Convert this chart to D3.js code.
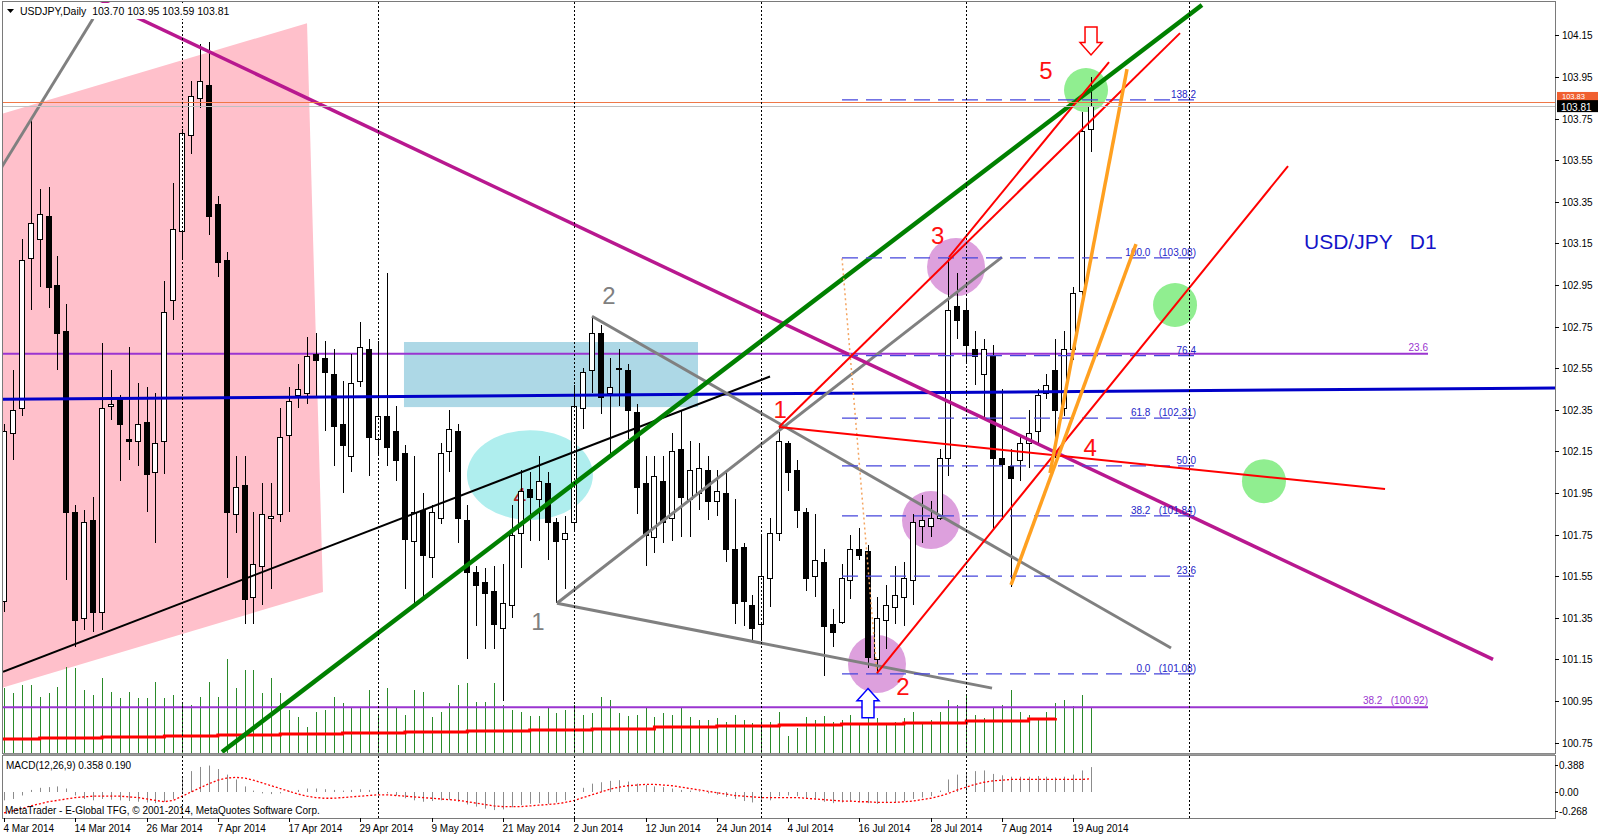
<!DOCTYPE html>
<html><head><meta charset="utf-8">
<script src="https://cdn.jsdelivr.net/npm/d3@7"></script>
<style>
body{margin:0;background:#fff}
svg{display:block}
text{font-family:"Liberation Sans",Arial,sans-serif}
</style></head>
<body><svg width="1600" height="837"></svg>
<script>
// ---------------- DATA ----------------
// Daily OHLC [open, high, low, close], bar 0 = 4 Mar 2014
const ohlc = [
[101.43,102.28,101.38,102.25],[102.24,102.54,102.11,102.35],[102.36,103.17,102.32,103.07],[103.08,103.75,102.83,103.25],
[103.17,103.41,102.94,103.29],[103.28,103.42,102.84,102.94],[102.95,103.09,102.54,102.72],[102.73,102.86,101.53,101.86],
[101.86,101.89,101.21,101.34],[101.35,101.87,101.29,101.81],[101.82,101.93,101.28,101.38],[101.38,102.67,101.29,102.36],
[102.37,102.54,102.30,102.38],[102.40,102.42,102.01,102.28],[102.21,102.65,102.11,102.20],[102.20,102.48,102.08,102.28],
[102.29,102.46,101.86,102.04],[102.05,102.43,101.71,102.19],[102.20,102.97,102.04,102.82],[102.88,103.44,102.78,103.22],
[103.21,103.70,103.08,103.68],[103.67,103.93,103.58,103.86],[103.85,104.11,103.80,103.93],[103.91,104.12,103.19,103.28],
[103.34,103.38,102.99,103.06],[103.07,103.11,101.54,101.86],[101.85,102.13,101.76,101.98],[101.99,102.13,101.32,101.44],
[101.45,101.86,101.32,101.61],[101.60,102.00,101.41,101.85],[101.83,102.00,101.49,101.84],[101.85,102.36,101.81,102.22],
[102.23,102.46,101.86,102.39],[102.42,102.57,102.36,102.45],[102.43,102.70,102.38,102.61],[102.62,102.72,102.41,102.59],
[102.60,102.68,102.25,102.53],[102.52,102.64,102.08,102.27],[102.28,102.49,101.95,102.18],[102.13,102.62,102.05,102.48],
[102.49,102.77,102.46,102.65],[102.64,102.69,102.03,102.22],[102.21,102.68,102.13,102.32],[102.32,103.01,102.08,102.17],
[102.25,102.37,102.01,102.11],[102.14,102.18,101.49,101.73],[101.72,102.13,101.42,101.86],[101.87,101.95,101.45,101.65],
[101.64,101.89,101.54,101.86],[101.83,102.19,101.80,102.14],[102.15,102.35,102.05,102.26],[102.25,102.28,101.71,101.83],
[101.82,101.89,101.15,101.57],[101.57,101.60,101.31,101.51],[101.52,101.59,101.20,101.47],[101.48,101.60,101.20,101.32],
[101.30,101.61,100.95,101.42],[101.41,101.89,101.35,101.75],[101.76,102.06,101.59,101.96],[101.97,102.05,101.72,101.93],
[101.92,102.13,101.72,102.01],[102.00,102.05,101.63,101.81],[101.81,101.83,101.42,101.72],[101.73,101.84,101.49,101.76],
[101.81,102.47,101.77,102.37],[102.36,102.55,102.26,102.53],[102.54,102.80,102.43,102.72],[102.72,102.76,102.33,102.41],
[102.43,102.60,102.12,102.46],[102.55,102.64,102.37,102.55],[102.54,102.57,102.21,102.35],[102.34,102.38,101.85,101.98],
[102.00,102.13,101.60,101.75],[101.74,102.13,101.66,102.03],[102.01,102.13,101.71,101.81],[101.83,102.24,101.72,102.15],
[102.16,102.35,101.74,101.93],[101.92,102.20,101.74,102.06],[101.95,102.19,101.87,102.07],[102.06,102.13,101.82,101.91],
[101.91,102.06,101.84,101.96],[101.95,102.06,101.62,101.68],[101.68,101.92,101.32,101.42],[101.69,101.71,101.31,101.43],
[101.41,101.46,101.23,101.30],[101.32,101.75,101.24,101.55],[101.54,101.83,101.40,101.76],[101.76,102.27,101.72,102.20],
[102.19,102.20,101.96,102.05],[102.06,102.11,101.78,101.87],[101.86,101.88,101.48,101.54],[101.55,101.85,101.45,101.63],
[101.62,101.68,101.07,101.31],[101.32,101.39,101.21,101.28],[101.33,101.61,101.32,101.54],[101.53,101.75,101.44,101.68],
[101.68,101.78,101.63,101.65],[101.67,101.70,101.11,101.16],[101.15,101.45,101.08,101.35],[101.34,101.51,101.20,101.41],
[101.40,101.60,101.32,101.46],[101.45,101.62,101.31,101.54],[101.53,101.85,101.41,101.81],[101.79,101.94,101.71,101.82],
[101.79,101.91,101.74,101.83],[101.83,102.16,101.82,102.12],[102.12,103.08,102.03,102.83],[102.85,103.01,102.69,102.78],
[102.83,102.88,102.57,102.66],[102.64,102.73,102.47,102.61],[102.52,102.69,102.30,102.64],[102.61,102.66,101.77,102.12],
[102.12,102.45,101.82,102.09],[102.08,102.16,101.50,102.02],[102.11,102.23,102.01,102.19],[102.19,102.35,102.07,102.24],
[102.25,102.45,102.19,102.42],[102.43,102.52,102.40,102.47],[102.54,102.69,102.12,102.35],[102.36,102.73,102.32,102.64],
[102.64,102.94,102.59,102.91],[102.92,103.78,102.88,103.69],[103.70,103.95,103.59,103.81]
];
// tick volume (hundreds)
const volumes = [65,60,68,68,56,60,66,86,85,63,58,75,61,55,61,55,55,71,55,58,51,48,56,71,56,94,65,83,83,60,
75,60,43,36,26,41,43,56,50,46,45,63,38,65,45,38,63,61,36,41,50,68,70,51,51,70,48,43,41,37,
37,46,40,43,48,38,40,56,53,40,37,38,46,36,40,38,45,36,33,33,35,31,38,33,30,33,31,41,17,25,
36,33,37,31,33,38,30,40,35,29,31,35,41,31,33,41,53,48,58,38,35,45,48,63,41,38,35,41,50,53,47,58,45];
// volume average knots [bar, value]
const volumeAvg = [[0,14],[4,15],[11,16],[18,17],[24,18],[31,19],[38,20],[45,21],[52,22],[59,23],[66,24],[73,26],[80,27],[87,28],[94,29],[101,30],[108,32],[115,34],[118,35]];
const macdHist = [-0.12,-0.10,-0.05,0.03,0.06,0.07,0.08,0.05,-0.05,-0.10,
-0.12,-0.10,-0.11,-0.12,-0.13,-0.14,-0.15,-0.16,-0.14,-0.10,
0.22,0.30,0.36,0.38,0.33,0.25,0.18,0.08,0.02,-0.02,
-0.03,-0.02,0.01,0.03,0.05,0.05,0.04,0.03,0.02,0.03,
0.04,0.03,0.02,-0.02,-0.05,-0.09,-0.12,-0.14,-0.13,-0.12,
-0.11,-0.14,-0.18,-0.21,-0.24,-0.26,-0.25,-0.22,-0.19,-0.17,
-0.16,-0.17,-0.15,-0.12,0.00,0.06,0.12,0.14,0.16,0.17,
0.15,0.12,0.10,0.08,0.07,0.05,0.03,0.02,0.01,-0.02,
-0.04,-0.07,-0.10,-0.13,-0.15,-0.14,-0.12,-0.06,-0.05,-0.06,
-0.10,-0.11,-0.14,-0.16,-0.15,-0.14,-0.13,-0.16,-0.17,-0.16,
-0.15,-0.13,-0.10,-0.08,-0.06,0.02,0.18,0.25,0.28,0.30,
0.31,0.26,0.24,0.22,0.22,0.22,0.23,0.22,0.21,0.22,
0.25,0.31,0.358];
const macdSignal = [-0.30,-0.27,-0.24,-0.20,-0.17,-0.14,-0.12,-0.10,-0.08,-0.07,
-0.06,-0.06,-0.06,-0.06,-0.07,-0.08,-0.10,-0.12,-0.14,-0.12,
-0.06,0.00,0.06,0.12,0.17,0.20,0.21,0.20,0.17,0.13,
0.09,0.05,0.01,-0.03,-0.06,-0.08,-0.09,-0.09,-0.08,-0.07,
-0.06,-0.05,-0.04,-0.04,-0.05,-0.06,-0.07,-0.08,-0.09,-0.10,
-0.11,-0.12,-0.14,-0.16,-0.18,-0.20,-0.21,-0.21,-0.21,-0.20,
-0.19,-0.18,-0.17,-0.15,-0.12,-0.08,-0.04,0.00,0.04,0.07,
0.09,0.10,0.11,0.11,0.10,0.09,0.07,0.05,0.03,0.01,
-0.01,-0.03,-0.05,-0.06,-0.07,-0.08,-0.08,-0.08,-0.08,-0.08,
-0.09,-0.10,-0.11,-0.12,-0.13,-0.13,-0.14,-0.14,-0.15,-0.15,
-0.15,-0.14,-0.13,-0.11,-0.09,-0.06,-0.02,0.03,0.07,0.11,
0.14,0.16,0.17,0.18,0.18,0.18,0.18,0.18,0.18,0.18,
0.18,0.18,0.19];
const dateLabels = ["4 Mar 2014","14 Mar 2014","26 Mar 2014","7 Apr 2014","17 Apr 2014","29 Apr 2014","9 May 2014","21 May 2014",
"2 Jun 2014","12 Jun 2014","24 Jun 2014","4 Jul 2014","16 Jul 2014","28 Jul 2014","7 Aug 2014","19 Aug 2014"];
const dateLabelBars = [0,8,16,24,32,40,48,56,64,72,80,88,96,104,112,120];
const monthStartBars = [20,42,64,85,108,133];
const priceTicks = [104.15,103.95,103.75,103.55,103.35,103.15,102.95,102.75,102.55,102.35,102.15,101.95,101.75,101.55,101.35,101.15,100.95,100.75];
const macdTicks = [0.388,0.00,-0.268];
const macdTickLabels = ["0.388","0.00","-0.268"];
const header = {symbol:"USDJPY,Daily", o:"103.70", h:"103.95", l:"103.59", c:"103.81"};
const bid = 103.81, ask = 103.83;
// drawn objects, anchors as [bar, price]
const pinkChannel = [[-0.5,103.77],[34.01,104.209],[35.80,101.474],[-0.5,101.01]];
const cyanBox = [[44.89,102.676],[77.89,102.363]];
const cyanEllipse = {center:[59.03,102.036], halfBars:7.07, halfPrice:0.216};
const plumCircles = [[106.85,103.036],[104.04,101.82],[97.98,101.128]];
const greenCircles = [[121.44,103.887],[131.43,102.854],[141.41,102.007]];
const greyTopLine = [[-0.5,103.50],[9.99,104.23]];
const magentaLine = [[10.77,104.32],[167.12,101.15]];
const greenLine = [[24.47,100.705],[134.45,104.296]];
const blackLine = [[-0.11,101.09],[85.97,102.51]];
const blueLine = [[-0.5,102.40],[174.5,102.455]];
const greyTriangle = [[[62.06,101.42],[112.01,103.084]],[[62.06,101.42],[110.89,101.012]],[[65.99,102.80],[130.98,101.205]]];
const redLines = [[[97.98,101.084],[144.11,103.522]],[[86.98,102.267],[155.0,101.969]],[[86.98,102.267],[131.99,104.161]],[[106.06,103.084],[124.02,104.022]]];
const orangeLines = [[[113.02,101.508],[127.05,103.147]],[[117.4,102.046],[126.04,103.988]]];
const fibAnchor = [[97.98,101.08],[94.05,103.08]];
const fibRange = [94.05,133.78];
const fibLevels = [
 {p:101.08, txt:"0.0   (101.08)"},{p:101.55, txt:"23.6"},{p:101.84, txt:"38.2   (101.84)"},{p:102.08, txt:"50.0"},
 {p:102.31, txt:"61.8   (102.31)"},{p:102.61, txt:"76.4"},{p:103.08, txt:"100.0   (103.08)"},{p:103.84, txt:"138.2"}];
const purpleFib = [{p:102.62, txt:"23.6"},{p:100.92, txt:"38.2   (100.92)"}];
const purpleFibEnd = 159.82;
const waveLabels = [{t:"1",i:87.1,p:102.35},{t:"2",i:100.9,p:101.02},{t:"3",i:104.8,p:103.19},{t:"4",i:121.9,p:102.17},{t:"5",i:116.95,p:103.98}];
const greyLabels = [{t:"1",i:59.93,p:101.33},{t:"2",i:67.9,p:102.90}];
const ellipseLabel = {t:"4",i:57.91,p:101.93};
const titleText = {t:"USD/JPY   D1", i:145.9, p:103.157};
const downArrow = {i:122, top:104.19, tip:104.056};
const upArrow = {i:96.97, tip:101.01, bottom:100.87};

// ---------------- DRAW ----------------
const svg = d3.select("svg");
const L=3, R=1555, T=2, MB=753, MT=756, MBOT=818;
const x = d3.scaleLinear().domain([0,133]).range([4, 4+8.91*133]);
const y = d3.scaleLinear().domain([100.75,103.95]).range([742.6,77]);
const vy = d3.scaleLinear().domain([0,100]).range([MB,MB-100]);
const my = d3.scaleLinear().domain([0,0.388]).range([792,765]);
const px = i => Math.round(x(i))+0.5;
const ln = d3.line().x(d=>x(d[0])).y(d=>y(d[1]));

svg.append("rect").attr("width",1600).attr("height",837).attr("fill","#fff");
const defs = svg.append("defs");
defs.append("clipPath").attr("id","cm").append("rect").attr("x",L).attr("y",T).attr("width",R-L).attr("height",MB-T);
defs.append("clipPath").attr("id","cd").append("rect").attr("x",L).attr("y",MT).attr("width",R-L).attr("height",MBOT-MT);
const gm = svg.append("g").attr("clip-path","url(#cm)");
const gd = svg.append("g").attr("clip-path","url(#cd)");

// background objects
gm.append("path").attr("d", ln(pinkChannel)+"Z").attr("fill","#FFC0CB");
gm.append("rect").attr("x",x(cyanBox[0][0])).attr("y",y(cyanBox[0][1]))
  .attr("width",x(cyanBox[1][0])-x(cyanBox[0][0])).attr("height",y(cyanBox[1][1])-y(cyanBox[0][1])).attr("fill","#ADD8E6");
gm.append("ellipse").attr("cx",x(cyanEllipse.center[0])).attr("cy",y(cyanEllipse.center[1]))
  .attr("rx",x(cyanEllipse.halfBars)-x(0)).attr("ry",y(0)-y(cyanEllipse.halfPrice)).attr("fill","#AFEEEE");
gm.selectAll(".plum").data(plumCircles).enter().append("circle")
  .attr("cx",d=>x(d[0])).attr("cy",d=>y(d[1])).attr("r",29).attr("fill","#DDA0DD");
gm.selectAll(".lg").data(greenCircles).enter().append("circle")
  .attr("cx",d=>x(d[0])).attr("cy",d=>y(d[1])).attr("r",22).attr("fill","#90EE90");
gm.append("text").attr("x",x(ellipseLabel.i)).attr("y",y(ellipseLabel.p)).attr("text-anchor","middle")
  .attr("dominant-baseline","central").attr("font-size",23).attr("fill","#B22222").text(ellipseLabel.t);

// month separators
monthStartBars.forEach(b=>{
  [[T,MB],[MT,MBOT]].forEach(r=>{
    svg.append("line").attr("x1",px(b)).attr("x2",px(b)).attr("y1",r[0]).attr("y2",r[1])
      .attr("stroke","#000").attr("stroke-dasharray","2,2").attr("stroke-width",1);
  });
});

// volumes
volumes.forEach((v,i)=>{
  gm.append("line").attr("x1",px(i)).attr("x2",px(i)).attr("y1",vy(0)).attr("y2",vy(v))
    .attr("stroke","#2a8a2a").attr("stroke-width",1);
});
gm.append("path").attr("d", d3.line().curve(d3.curveStepAfter).x(d=>x(d[0])).y(d=>vy(d[1]))([[ -0.5, volumeAvg[0][1]], ...volumeAvg]))
  .attr("fill","none").attr("stroke","#FF0000").attr("stroke-width",3);

// purple fib
purpleFib.forEach(f=>{
  gm.append("line").attr("x1",L).attr("x2",x(purpleFibEnd)).attr("y1",y(f.p)).attr("y2",y(f.p))
    .attr("stroke","#9A35D0").attr("stroke-width",2);
  gm.append("text").attr("x",x(purpleFibEnd)).attr("y",y(f.p)-3).attr("text-anchor","end")
    .attr("font-size",10).attr("fill","#9A35D0").style("white-space","pre").text(f.txt);
});

// candles
const gc = gm.append("g");
ohlc.forEach((d,i)=>{
  const cx = px(i);
  gc.append("line").attr("x1",cx).attr("x2",cx).attr("y1",Math.round(y(d[1]))).attr("y2",Math.round(y(d[2])))
    .attr("stroke","#000").attr("stroke-width",1);
  const top = Math.round(y(Math.max(d[0],d[3]))), bot = Math.round(y(Math.min(d[0],d[3])));
  gc.append("rect").attr("x",cx-3).attr("y",top+0.5).attr("width",5).attr("height",Math.max(1,bot-top))
    .attr("fill", d[3]>=d[0] ? "#fff" : "#000").attr("stroke","#000").attr("stroke-width",1);
});

// trend lines
const drawLine = (pts,color,w,dash)=>{
  const p = gm.append("path").attr("d",ln(pts)).attr("fill","none").attr("stroke",color).attr("stroke-width",w);
  if(dash) p.attr("stroke-dasharray",dash);
};
drawLine(blueLine,"#0000C8",3);
drawLine(blackLine,"#000",2);
drawLine(greyTopLine,"#808080",3);
greyTriangle.forEach(s=>drawLine(s,"#808080",3));
drawLine(magentaLine,"#B8188F",3.5);
drawLine(greenLine,"#008000",4.5);
// fib
drawLine(fibAnchor,"#F4A460",1.5,"2,3");
fibLevels.forEach(f=>{
  gm.append("line").attr("x1",x(fibRange[0])).attr("x2",x(fibRange[1])).attr("y1",y(f.p)).attr("y2",y(f.p))
    .attr("stroke","#4646DC").attr("stroke-width",1.3).attr("stroke-dasharray","16,8");
  gm.append("text").attr("x",x(fibRange[1])).attr("y",y(f.p)-2).attr("text-anchor","end")
    .attr("font-size",10).attr("fill","#2525C8").style("white-space","pre").text(f.txt);
});
redLines.forEach(s=>drawLine(s,"#FF0000",2));
orangeLines.forEach(s=>drawLine(s,"#FFA020",3.5));

// bid / ask lines
gm.append("line").attr("x1",L).attr("x2",R).attr("y1",Math.round(y(ask))+0.5).attr("y2",Math.round(y(ask))+0.5).attr("stroke","#F07848");
gm.append("line").attr("x1",L).attr("x2",R).attr("y1",Math.round(y(bid))+0.5).attr("y2",Math.round(y(bid))+0.5).attr("stroke","#C0C0C0");

// labels
waveLabels.forEach(w=>gm.append("text").attr("x",x(w.i)).attr("y",y(w.p)).attr("text-anchor","middle")
  .attr("dominant-baseline","central").attr("font-size",24).attr("fill","#FF1010").text(w.t));
greyLabels.forEach(w=>gm.append("text").attr("x",x(w.i)).attr("y",y(w.p)).attr("text-anchor","middle")
  .attr("dominant-baseline","central").attr("font-size",24).attr("fill","#808080").text(w.t));
gm.append("text").attr("x",x(titleText.i)).attr("y",y(titleText.p)).attr("dominant-baseline","central")
  .attr("font-size",21).attr("fill","#1414C8").style("white-space","pre").text(titleText.t);

// arrows
{
  const cx = x(downArrow.i), t = y(downArrow.top), tip = y(downArrow.tip), m = t + (tip-t)*0.55;
  gm.append("path").attr("d",`M${cx-6},${t}H${cx+6}V${m}H${cx+11}L${cx},${tip}L${cx-11},${m}H${cx-6}Z`)
    .attr("fill","#fff").attr("stroke","#FF0000").attr("stroke-width",1.5);
  const ux = x(upArrow.i), ut = y(upArrow.tip), ub = y(upArrow.bottom), um = ut + (ub-ut)*0.42;
  gm.append("path").attr("d",`M${ux},${ut}L${ux+11},${um}H${ux+6}V${ub}H${ux-6}V${um}H${ux-11}Z`)
    .attr("fill","#fff").attr("stroke","#0000FF").attr("stroke-width",1.5);
}

// MACD panel
macdHist.forEach((v,i)=>{
  gd.append("line").attr("x1",px(i)).attr("x2",px(i)).attr("y1",my(0)).attr("y2",my(v))
    .attr("stroke","#8C8C8C").attr("stroke-width",1);
});
gd.append("path").attr("d",d3.line().x((d,i)=>x(i)).y(d=>my(d))(macdSignal))
  .attr("fill","none").attr("stroke","#FF0000").attr("stroke-width",1.3).attr("stroke-dasharray","2,2");
svg.append("text").attr("x",6).attr("y",769).attr("font-size",10).attr("fill","#000").text("MACD(12,26,9) 0.358 0.190");
svg.append("text").attr("x",5).attr("y",814).attr("font-size",10).attr("fill","#000").text("MetaTrader - E-Global TFG, © 2001-2014, MetaQuotes Software Corp.");

// header
svg.append("rect").attr("x",L+1).attr("y",T+1).attr("width",232).attr("height",16).attr("fill","#fff");
svg.append("path").attr("d","M7,9H14L10.5,13Z").attr("fill","#000");
svg.append("text").attr("x",20).attr("y",15).attr("font-size",10.5).attr("fill","#000").style("white-space","pre")
  .text(`${header.symbol}  ${header.o} ${header.h} ${header.l} ${header.c}`);

// frames
const frame = (x0,y0,x1,y1)=>svg.append("rect").attr("x",x0+0.5).attr("y",y0+0.5).attr("width",x1-x0).attr("height",y1-y0)
  .attr("fill","none").attr("stroke","#7a7a7a").attr("stroke-width",1);
frame(L-1,T-1,R,MB);
frame(L-1,MT-1,R,MBOT);
svg.append("line").attr("x1",L).attr("x2",R).attr("y1",MB+1.5).attr("y2",MB+1.5).attr("stroke","#9a9a9a").attr("stroke-width",2);

// price axis
priceTicks.forEach(p=>{
  const yy = Math.round(y(p))+0.5;
  svg.append("line").attr("x1",R).attr("x2",R+4).attr("y1",yy).attr("y2",yy).attr("stroke","#000");
  svg.append("text").attr("x",R+7).attr("y",yy).attr("dominant-baseline","central").attr("font-size",10).attr("fill","#000").text(p.toFixed(2));
});
// ask/bid tags
svg.append("rect").attr("x",R+2).attr("y",y(ask)-10).attr("width",41).attr("height",11).attr("fill","#F06030");
svg.append("text").attr("x",R+7).attr("y",y(ask)-5.5).attr("dominant-baseline","central").attr("font-size",7.5).attr("fill","#fff").text(ask.toFixed(2));
svg.append("rect").attr("x",R+2).attr("y",y(bid)-6).attr("width",41).attr("height",12).attr("fill","#000");
svg.append("text").attr("x",R+6).attr("y",y(bid)+1).attr("dominant-baseline","central").attr("font-size",10).attr("fill","#fff").text(bid.toFixed(2));
// macd axis
macdTicks.forEach((v,k)=>{
  const yy = Math.round(my(v))+0.5;
  svg.append("line").attr("x1",R).attr("x2",R+3).attr("y1",yy).attr("y2",yy).attr("stroke","#000");
  svg.append("text").attr("x",R+4).attr("y",yy).attr("dominant-baseline","central").attr("font-size",10).attr("fill","#000").text(macdTickLabels[k]);
});
// time axis
dateLabelBars.forEach((b,k)=>{
  svg.append("line").attr("x1",px(b)).attr("x2",px(b)).attr("y1",MBOT).attr("y2",MBOT+4).attr("stroke","#000");
  svg.append("text").attr("x",px(b)-1).attr("y",832).attr("font-size",10).attr("fill","#000").text(dateLabels[k]);
});
</script>
</body></html>
